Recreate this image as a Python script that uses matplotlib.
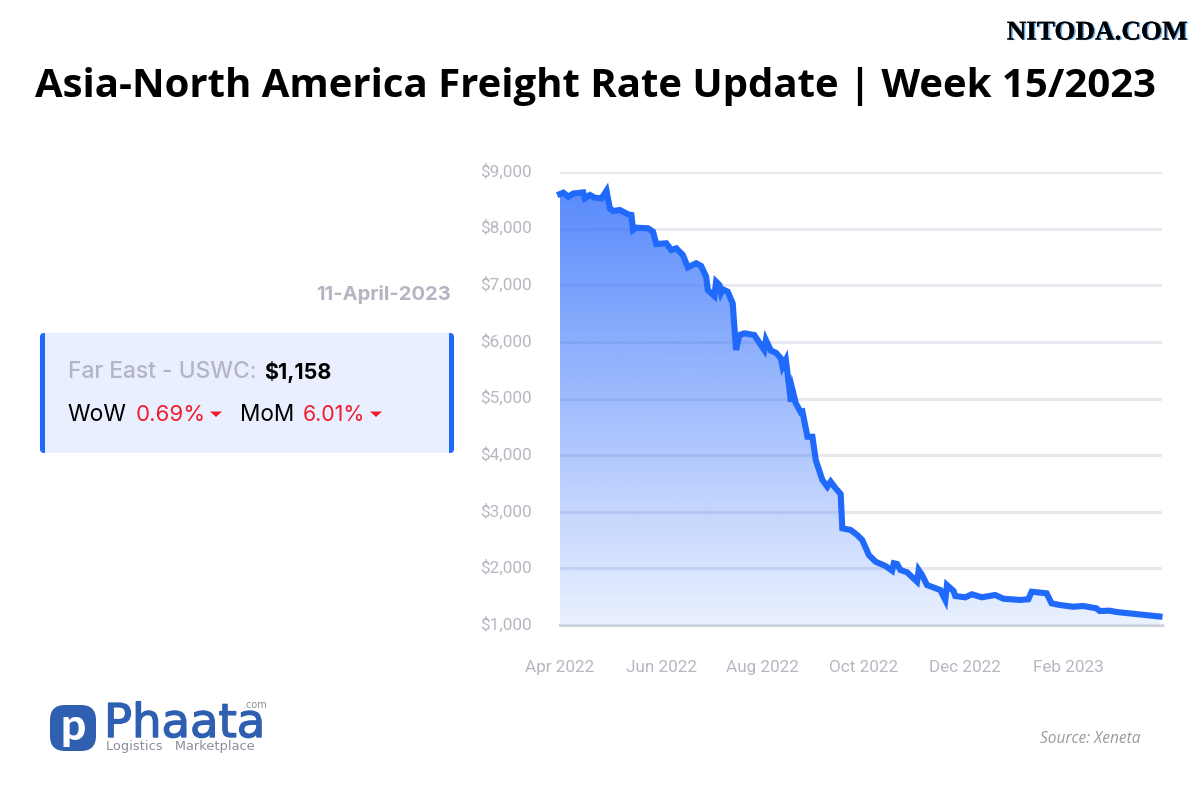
# Asia-North America freight rate card, week 15/2023

import numpy as np
import pandas as pd
import matplotlib
matplotlib.use("Agg")
import matplotlib.pyplot as plt
from matplotlib.patches import FancyBboxPatch, Rectangle
from matplotlib.colors import to_rgb
from matplotlib.transforms import ScaledTranslation
import matplotlib.patheffects as pe

start = pd.Timestamp("2022-04-01")

# days after 1 Apr 2022
days = [0, 2, 5, 8, 14, 15, 18, 21, 25, 28, 30, 32, 36, 41, 43, 44, 46, 53, 56, 58,
        64, 67, 70, 74, 77, 82, 85, 88, 89, 93, 94, 96, 97, 98, 101, 104, 106, 108,
        111, 117, 123, 124, 127, 130, 133, 134, 136, 138, 139, 140, 142, 145, 146,
        149, 152, 154, 158, 161, 163, 166, 169, 170, 175, 179, 182, 186, 190, 196,
        200, 201, 203, 205, 209, 215, 216, 218, 221, 229, 232, 233, 237, 238, 244,
        248, 254, 262, 267, 277, 282, 284, 293, 296, 301, 309, 315, 323, 325, 331,
        335, 361]
rates = [8611, 8635, 8564, 8620, 8640, 8535, 8594, 8546, 8535, 8670, 8359, 8311, 8329,
         8253, 8241, 7976, 8016, 8006, 7946, 7728, 7741, 7623, 7652, 7534, 7317, 7388,
         7340, 7151, 6916, 6810, 7063, 7004, 6868, 6928, 6886, 6681, 5857, 6121, 6151,
         6121, 5857, 6033, 5844, 5809, 5710, 5562, 5680, 5208, 4943, 5150, 4915, 4756,
         4767, 4325, 4325, 3914, 3561, 3442, 3531, 3414, 3313, 2708, 2678, 2589, 2501,
         2236, 2118, 2042, 1959, 2090, 2077, 1971, 1931, 1765, 1971, 1883, 1706, 1618,
         1442, 1706, 1600, 1512, 1489, 1542, 1489, 1530, 1464, 1442, 1454, 1588, 1560,
         1383, 1353, 1323, 1336, 1295, 1247, 1253, 1230, 1150]

y_ticks = [1000, 2000, 3000, 4000, 5000, 6000, 7000, 8000, 9000]
x_tick_dates = ["2022-04-01", "2022-06-01", "2022-08-01", "2022-10-01", "2022-12-01", "2023-02-01"]
x_tick_labels = ["Apr 2022", "Jun 2022", "Aug 2022", "Oct 2022", "Dec 2022", "Feb 2023"]

BLUE = "#1f69fb"
GREY_TEXT = "#b3b6c2"
TICK_GREY = "#b5b8c0"
RED = "#f01c2c"

fig = plt.figure(figsize=(12, 8), dpi=100)
fig.patch.set_facecolor("white")

dates = start + pd.to_timedelta(days, unit="D")

# main chart
ax = fig.add_axes([560 / 1200, 175 / 800, 602 / 1200, 453 / 800])
ax.set_xlim(start, start + pd.Timedelta(days=362.5))
ax.set_ylim(1000, 9000)

for s in ax.spines.values():
    s.set_visible(False)

ax.set_yticks(y_ticks)
ax.set_yticklabels(["$" + format(v, ",") for v in y_ticks])
ax.set_xticks(pd.to_datetime(x_tick_dates))
ax.set_xticklabels(x_tick_labels)
ax.tick_params(length=0, labelsize=12.3, labelcolor=TICK_GREY)
ax.tick_params(axis="y", pad=20)
ax.tick_params(axis="x", pad=25)
for lab in ax.get_xticklabels() + ax.get_yticklabels():
    lab.set_family("Roboto")
for lab in ax.get_yticklabels():
    lab.set_transform(lab.get_transform() + ScaledTranslation(0, 2 / 100, fig.dpi_scale_trans))
ax.grid(axis="y", color="#e8e8ee", lw=2.2, zorder=1)
ax.grid(axis="x", visible=False)
ax.axhline(1000, color="#cdd0d9", lw=2.2, zorder=1, clip_on=False)

# gradient fill under the line
c = to_rgb("#2e6dfb")
grad = np.zeros((256, 2, 4))
grad[..., 0], grad[..., 1], grad[..., 2] = c
grad[..., 3] = np.linspace(0.80, 0.10, 256)[:, None]
x0, x1 = ax.get_xlim()
img = ax.imshow(grad, extent=[x0, x1, 1000, 8700], aspect="auto", zorder=2, origin="upper")
poly = ax.fill_between(dates, rates, 1000, color="none")
img.set_clip_path(poly.get_paths()[0], transform=ax.transData)
ax.set_xlim(x0, x1)
ax.set_ylim(1000, 9000)

ax.plot(dates, rates, color=BLUE, lw=4.4, zorder=3, solid_joinstyle="miter", clip_on=False)

# overlay in pixel coordinates for the card, logo and captions
ov = fig.add_axes([0, 0, 1, 1], zorder=5)
ov.set_xlim(0, 1200)
ov.set_ylim(800, 0)
ov.axis("off")

ov.text(595, 87, "Asia-North America Freight Rate Update | Week 15/2023", ha="center", va="center",
        family="Open Sans", weight="bold", fontsize=28.9, color="black")
ov.text(1097.5, 33, "NITODA.COM", ha="center", va="center", family="Liberation Serif", weight="bold",
        fontsize=19.5, color="black",
        path_effects=[pe.withSimplePatchShadow(offset=(1.2, -0.4), shadow_rgbFace="#3f9be8", alpha=0.8),
                      pe.Normal()])

ov.text(451, 295, "11-April-2023", ha="right", va="center", family="Inter", weight="bold",
        fontsize=14.5, color=GREY_TEXT)

# card
ov.add_patch(FancyBboxPatch((40, 333), 414, 120, boxstyle="round,pad=0,rounding_size=4",
                            fc=BLUE, ec="none"))
ov.add_patch(Rectangle((45, 333), 404, 120, fc="#e9effe", ec="none"))
ov.text(68, 372, "Far East - USWC:", va="center", family="Inter", weight="medium",
        fontsize=16.4, color=GREY_TEXT)
ov.text(264, 372, "$1,158", va="center", family="Inter", weight="bold", fontsize=15.4, color="black")
ov.text(67.5, 415, "WoW", va="center", family="Inter", fontsize=16.5, color="black")
ov.text(136, 415, "0.69%", va="center", family="Inter", fontsize=16, color=RED)
ov.fill([210, 222, 216], [411.5, 411.5, 417], color=RED, lw=0)
ov.text(240, 415, "MoM", va="center", family="Inter", fontsize=16.2, color="black")
ov.text(303, 415, "6.01%", va="center", family="Inter", fontsize=15.4, color=RED)
ov.fill([370, 382, 376], [411.5, 411.5, 417], color=RED, lw=0)

# logo
LOGO = "#2f5fb0"
ov.add_patch(FancyBboxPatch((50, 705), 46, 46, boxstyle="round,pad=0,rounding_size=15", fc=LOGO, ec="none"))
ov.text(73, 727, "p", ha="center", va="center", family="Lato", weight="black", fontsize=32, color="white")
ov.text(104, 737, "Phaata", va="baseline", family="DejaVu Sans", fontsize=33.5, color=LOGO,
        path_effects=[pe.withStroke(linewidth=1.0, foreground=LOGO)])
ov.text(267, 708, ".com", ha="right", va="baseline", family="DejaVu Sans", fontsize=7, color="#8b8f99")
ov.text(106, 750, "Logistics   Marketplace", va="baseline", family="DejaVu Sans", fontsize=9.4, color="#8b8f99")

ov.text(1141, 739, "Source: Xeneta", ha="right", va="center", family="Open Sans", style="italic",
        fontsize=11.2, color="#9a9a9a")

fig.savefig("out.png", dpi=100)
